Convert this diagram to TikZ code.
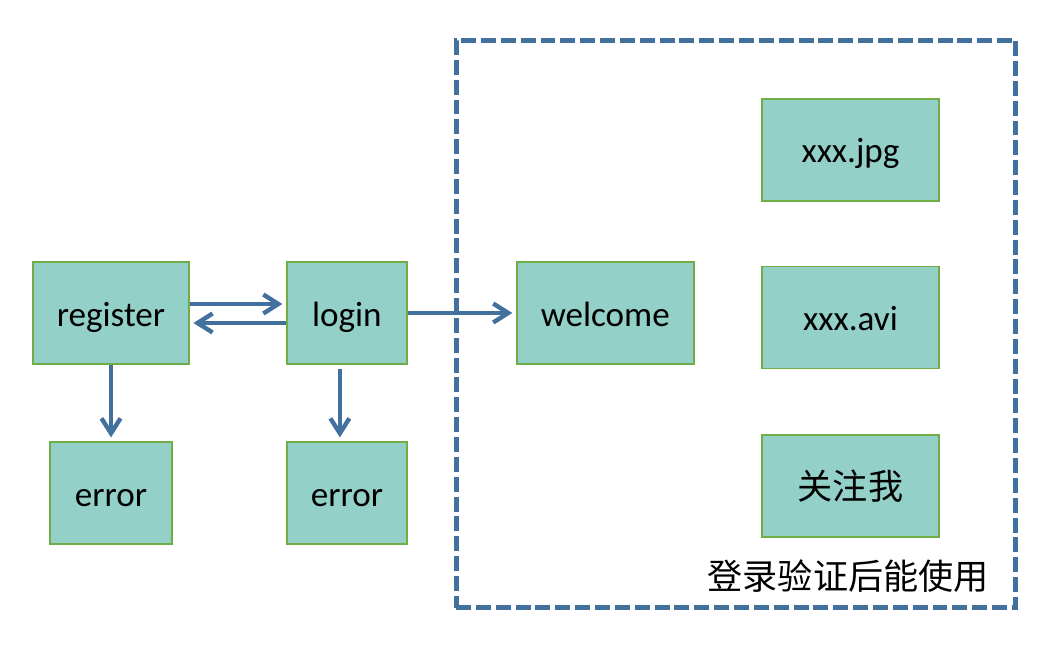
\documentclass[tikz,border=0pt]{standalone}
\usepackage{fontspec}
\setmainfont{Carlito}
\newfontfamily\cjk{Noto Sans CJK SC}
\usetikzlibrary{positioning,arrows.meta}
\definecolor{boxfill}{RGB}{146,208,200}
\definecolor{boxline}{RGB}{112,173,71}
\definecolor{flow}{RGB}{65,113,156}
\tikzstyle{page}=[draw=boxline,fill=boxfill,line width=1.1pt,minimum width=#1,minimum height=2.04cm,inner sep=0pt,text height=15pt,text depth=0pt,font=\fontsize{20}{24}\selectfont]
\newcommand{\myedge}[2]{ \draw[flow,line width=2.5pt,-{Straight Barb[length=0.3cm,width=0.38cm]},shorten >=2pt] (#1) -- (#2);}

\begin{document}
\begin{tikzpicture}[x=0.02cm,y=-0.02cm]
    \useasboundingbox (0,0) rectangle (1051,649);
    % protected area
    \node[draw=flow,line width=2.8pt,dash pattern=on 8.5pt off 2.8pt,minimum width=11.2cm,minimum height=11.36cm] (frame) at (736,324) {};
    \node[font=\fontsize{20}{24}\selectfont\cjk,anchor=east] (note) at (995,576) {登录验证后能使用};

    % pages
    \node[page=3.12cm] (register) at (111,313) {register};
    \node[page=2.4cm] (login) [right=1.92cm of register] {login};
    \node[page=3.54cm] (welcome) [right=2.16cm of login] {welcome};
    \node[page=2.44cm] (regerror) [below=1.52cm of register] {error};
    \node[page=2.4cm] (logerror) [below=1.52cm of login] {error};

    \node[page=3.54cm] (avi) at (850.5,317.5) {xxx.avi};
    \node[page=3.54cm] (jpg) [above=1.28cm of avi] {xxx.jpg};
    \node[page=3.54cm,font=\fontsize{20}{24}\selectfont\cjk] (follow) [below=1.3cm of avi] {关注我};

    % flow
    \myedge{[yshift=0.18cm]register.east}{[yshift=0.18cm]login.west}
    \myedge{[yshift=-0.2cm]login.west}{[yshift=-0.2cm]register.east}
    \myedge{login.east}{welcome.west}
    \myedge{regerror.north |- register.south}{regerror.north}
    \myedge{[xshift=-0.14cm,yshift=-0.08cm]login.south}{[xshift=-0.14cm]logerror.north}
\end{tikzpicture}
\end{document}
